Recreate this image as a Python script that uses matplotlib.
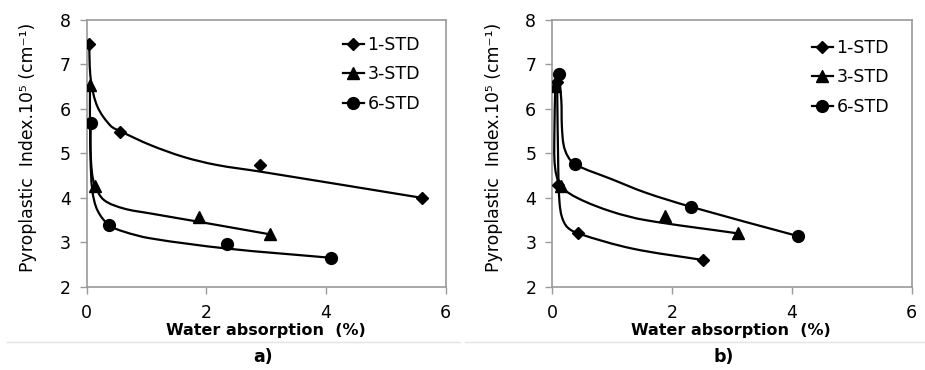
import matplotlib

matplotlib.use("Agg")
import matplotlib.pyplot as plt
import numpy as np
from matplotlib.lines import Line2D
from matplotlib.patches import PathPatch
from matplotlib.path import Path

# ---- measured points (markers) ----
# panel a)
a_1std_x = [0.04, 0.56, 2.90, 5.60]
a_1std_y = [7.47, 5.49, 4.74, 4.00]
a_3std_x = [0.055, 0.14, 1.88, 3.06]
a_3std_y = [6.54, 4.27, 3.57, 3.18]
a_6std_x = [0.067, 0.37, 2.34, 4.09]
a_6std_y = [5.68, 3.39, 2.96, 2.65]
# panel b)
b_1std_x = [0.08, 0.10, 0.43, 2.52]
b_1std_y = [6.60, 4.28, 3.20, 2.60]
b_3std_x = [0.05, 0.15, 1.88, 3.10]
b_3std_y = [6.52, 4.27, 3.59, 3.20]
b_6std_x = [0.11, 0.38, 2.31, 4.10]
b_6std_y = [6.78, 4.75, 3.80, 3.14]

# ---- trend curves ----
a_1std_cx = [0.04, 0.07, 0.18, 0.40, 0.56, 1.06, 1.62, 2.17, 2.90, 5.60]
a_1std_cy = [7.47, 6.65, 6.05, 5.62, 5.50, 5.19, 4.92, 4.74, 4.59, 4.00]
a_3std_cx = [0.055, 0.06, 0.09, 0.14, 0.29, 0.62, 1.06, 1.88, 3.06]
a_3std_cy = [6.54, 5.20, 4.55, 4.27, 3.95, 3.76, 3.65, 3.46, 3.18]
a_6std_cx = [0.067, 0.065, 0.094, 0.18, 0.37, 0.62, 1.06, 2.34, 4.09]
a_6std_cy = [5.68, 4.90, 4.17, 3.72, 3.39, 3.24, 3.09, 2.86, 2.65]

b_1std_cx = [0.08, 0.10, 0.12, 0.16, 0.25, 0.43, 1.33, 2.52]
b_1std_cy = [6.60, 4.60, 3.90, 3.57, 3.34, 3.20, 2.86, 2.60]
b_3std_cx = [0.05, 0.035, 0.045, 0.14, 0.43, 0.99, 1.55, 3.10]
b_3std_cy = [6.52, 5.50, 4.70, 4.27, 3.99, 3.69, 3.50, 3.20]
b_6std_cx = [0.11, 0.15, 0.16, 0.19, 0.26, 0.38, 0.99, 1.55, 2.31, 4.10]
b_6std_cy = [6.78, 6.20, 5.60, 5.18, 4.93, 4.75, 4.42, 4.12, 3.80, 3.14]

SERIES = ["1-STD", "3-STD", "6-STD"]
MARKERS = {"1-STD": ("D", 6), "3-STD": ("^", 8), "6-STD": ("o", 8.5)}
FRAME = "#9a9a9a"


def smooth_path(xs, ys, sx=59.8, sy=44.4):
    """Bezier path through the knots, tangents computed in pixel-like space"""
    p = np.column_stack([np.asarray(xs) * sx, np.asarray(ys) * sy])
    n = len(p)
    tang = []
    for i in range(n):
        if i == 0:
            d = p[1] - p[0]
        elif i == n - 1:
            d = p[-1] - p[-2]
        else:
            d = p[i + 1] - p[i - 1]
        tang.append(d / np.linalg.norm(d))
    verts = [p[0]]
    codes = [Path.MOVETO]
    for i in range(n - 1):
        seg = np.linalg.norm(p[i + 1] - p[i]) / 3
        verts += [p[i] + tang[i] * seg, p[i + 1] - tang[i + 1] * seg, p[i + 1]]
        codes += [Path.CURVE4] * 3
    verts = np.array(verts) / [sx, sy]
    return Path(verts, codes)


def draw_panel(ax, points, curves, legend_anchor, label_x):
    for name, (px, py), (cx, cy) in zip(SERIES, points, curves):
        ax.add_patch(
            PathPatch(smooth_path(cx, cy), fill=False, lw=1.6, color="black",
                      capstyle="round", zorder=2)
        )
        m, ms = MARKERS[name]
        ax.plot(px, py, linestyle="none", marker=m, ms=ms, color="black", zorder=3)

    handles = [
        Line2D([], [], color="black", lw=1.6, marker=MARKERS[n][0], ms=MARKERS[n][1])
        for n in SERIES
    ]
    ax.legend(
        handles, SERIES, loc="upper left", bbox_to_anchor=legend_anchor,
        frameon=False, fontsize=12.5, handlelength=1.2, handletextpad=0.2,
        labelspacing=0.66, borderpad=0, borderaxespad=0,
    )

    ax.set_xlim(0, 6)
    ax.set_ylim(2, 8)
    ax.set_xticks([0, 2, 4, 6])
    ax.set_yticks(range(2, 9))
    for s in ax.spines.values():
        s.set_color(FRAME)
        s.set_linewidth(1.2)
    ax.tick_params(direction="out", length=5, width=1, color=FRAME,
                   labelsize=12.5, pad=6.5)
    ax.tick_params(axis="x", pad=7.5)
    ax.set_xlabel("Water absorption  (%)", fontsize=11.5, fontweight="bold")
    ax.set_ylabel("Pyroplastic  Index.10\u2075 (cm\u207b\u00b9)", fontsize=12.4)
    ax.xaxis.set_label_coords(0.498, -0.137)
    ax.yaxis.set_label_coords(label_x, 0.524)


fig = plt.figure(figsize=(9.25, 3.7), dpi=100)
ax_a = fig.add_axes([0.0937, 0.225, 0.3881, 0.721])
ax_b = fig.add_axes([0.5971, 0.225, 0.3885, 0.721])

draw_panel(
    ax_a,
    [(a_1std_x, a_1std_y), (a_3std_x, a_3std_y), (a_6std_x, a_6std_y)],
    [(a_1std_cx, a_1std_cy), (a_3std_cx, a_3std_cy), (a_6std_cx, a_6std_cy)],
    (0.714, 0.94), -0.138,
)
draw_panel(
    ax_b,
    [(b_1std_x, b_1std_y), (b_3std_x, b_3std_y), (b_6std_x, b_6std_y)],
    [(b_1std_cx, b_1std_cy), (b_3std_cx, b_3std_cy), (b_6std_cx, b_6std_cy)],
    (0.7226, 0.929), -0.137,
)

# faint separator and panel captions
fig.add_artist(Line2D([0.008, 0.497], [0.0765, 0.0765], color="#e3e3e3", lw=1))
fig.add_artist(Line2D([0.503, 1.0], [0.0765, 0.0765], color="#e3e3e3", lw=1))
fig.text(0.284, 0.035, "a)", ha="center", va="center", fontsize=12.5, fontweight="bold")
fig.text(0.782, 0.035, "b)", ha="center", va="center", fontsize=12.5, fontweight="bold")

fig.savefig("out.png", dpi=100)
